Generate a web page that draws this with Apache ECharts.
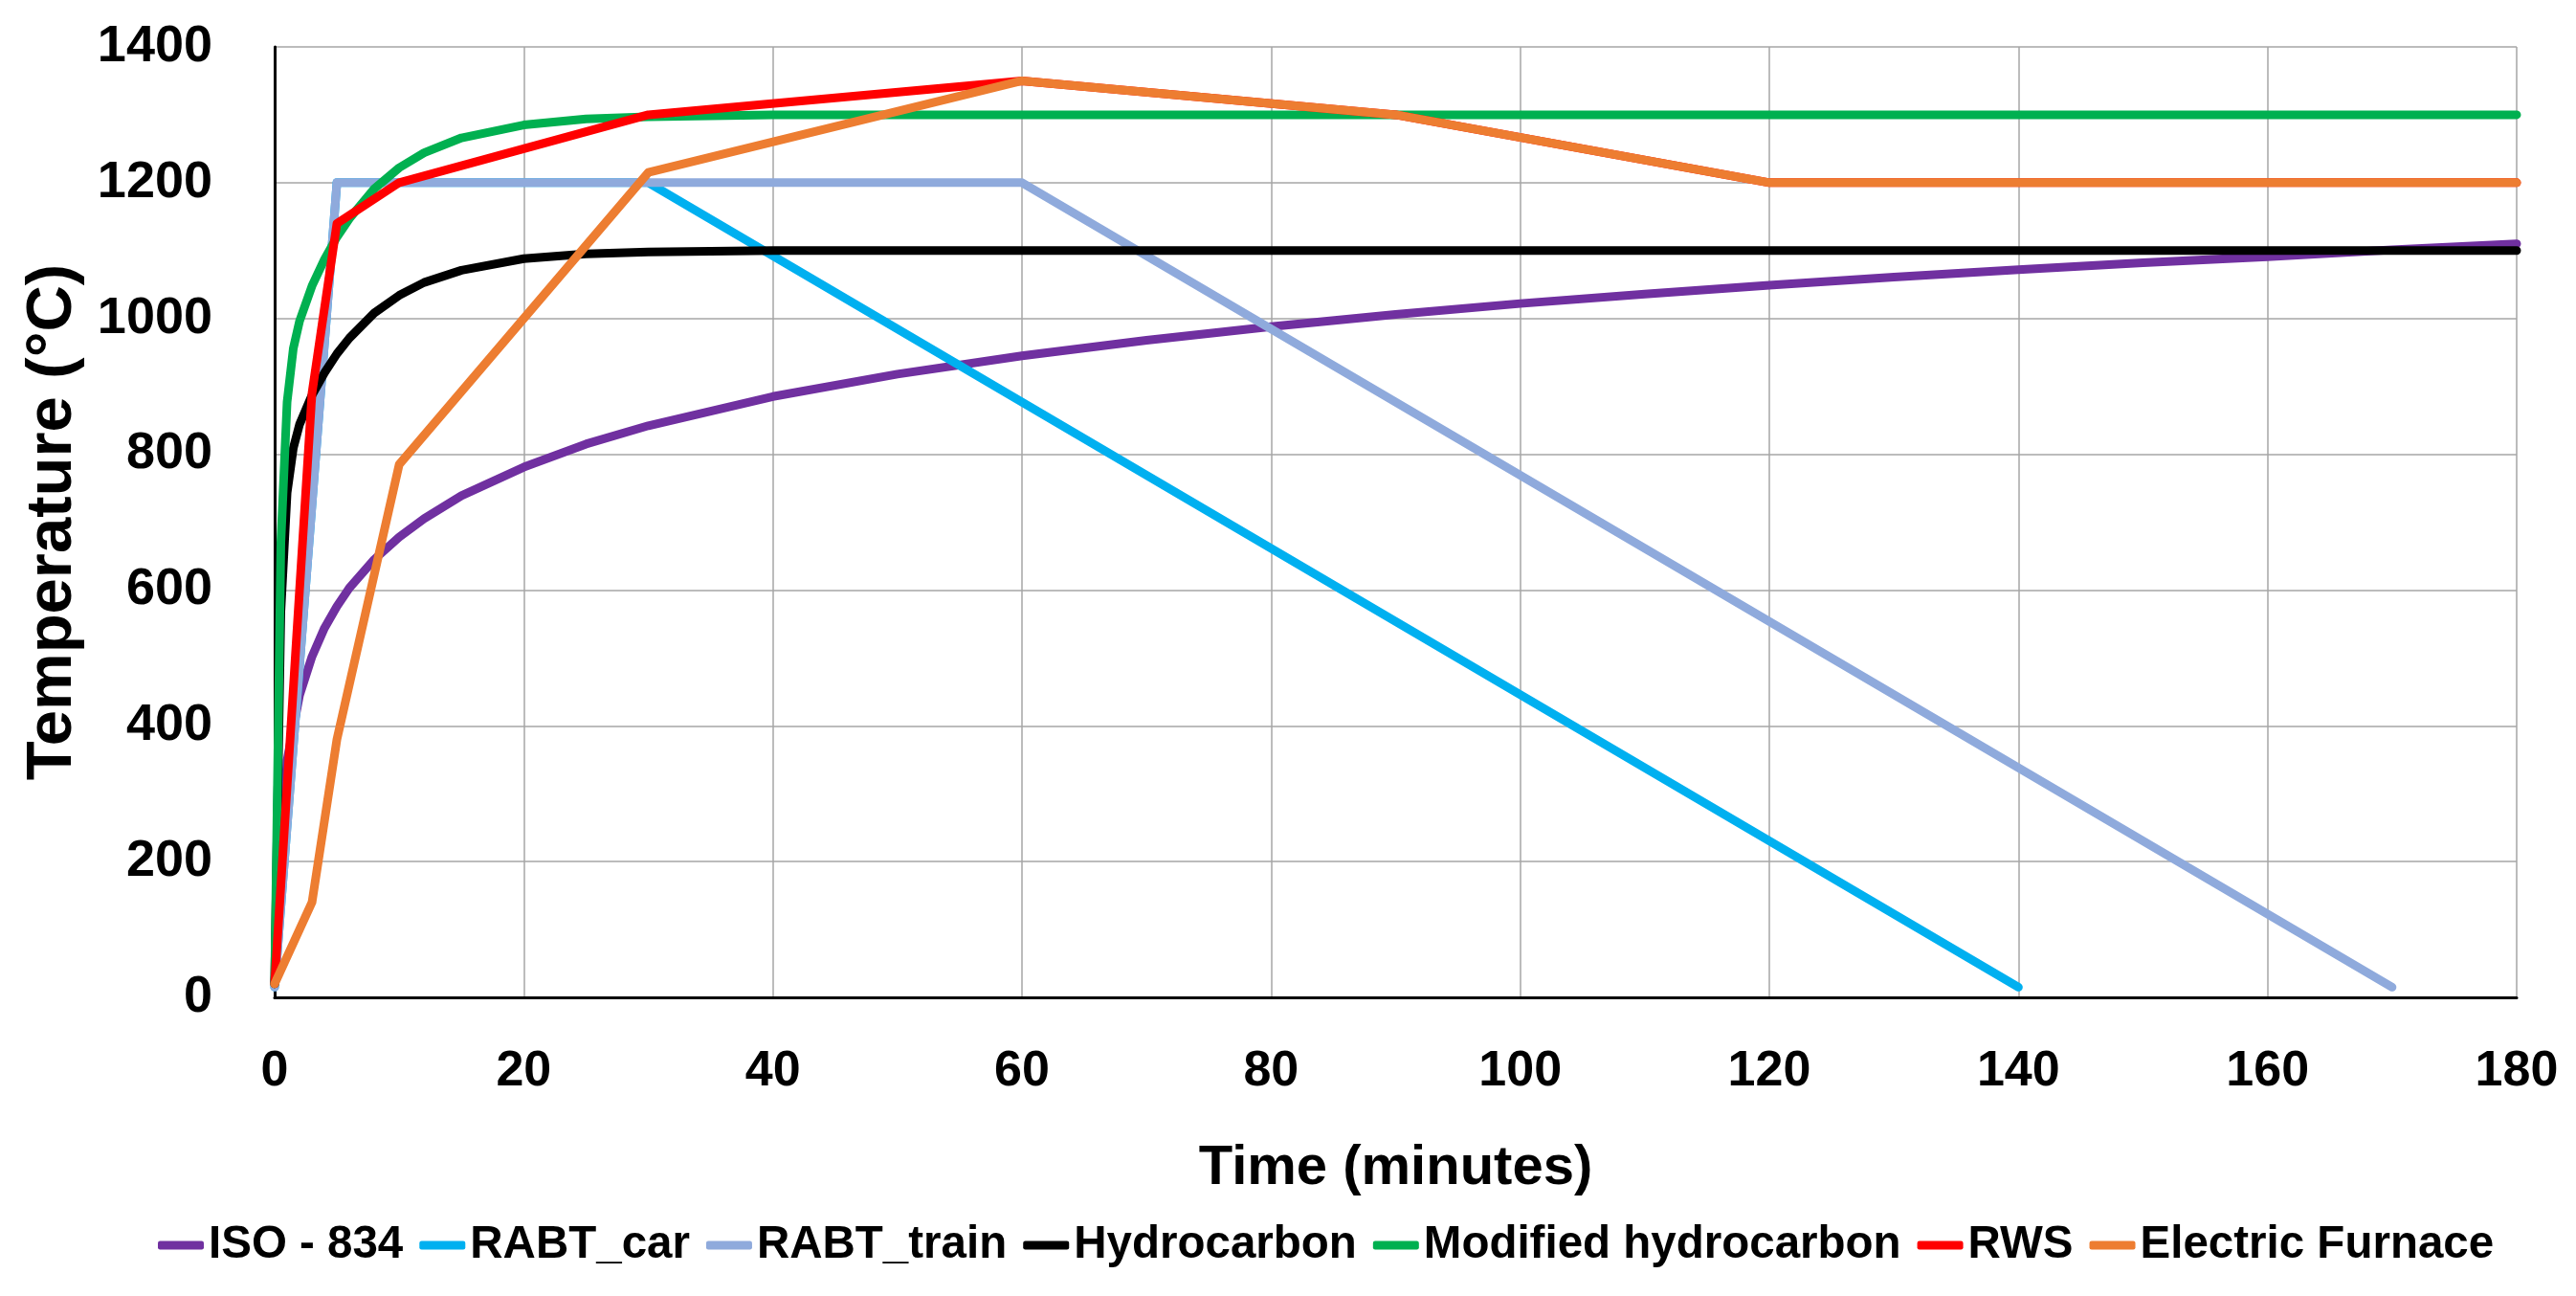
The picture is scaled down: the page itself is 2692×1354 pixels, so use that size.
<!DOCTYPE html>
<html>
<head>
<meta charset="utf-8">
<script src="https://cdn.jsdelivr.net/npm/echarts@6/dist/echarts.min.js"></script>
<style>
  html, body { margin: 0; padding: 0; background: #fff; }
  #chart { width: 2692px; height: 1354px; }
</style>
</head>
<body>
<div id="chart"></div>
<script>
// fire curves (time in minutes, temperature in °C)
const isoTime = [0, 1, 2, 3, 4, 5, 6, 8, 10, 12, 15, 20, 25, 30, 40, 50, 60, 70, 80, 90, 100, 110, 120, 130, 140, 150, 160, 170, 180]
const isoTemp = [20, 349, 445, 502, 544, 576, 603, 645, 678, 705, 739, 781, 815, 842, 885, 918, 945, 968, 988, 1006, 1022, 1036, 1049, 1061, 1072, 1082, 1091, 1101, 1110]

const rabtCarTime = [0, 5, 30, 140]
const rabtCarTemp = [15, 1200, 1200, 15]

const rabtTrainTime = [0, 5, 60, 170]
const rabtTrainTemp = [15, 1200, 1200, 15]

const hcTime = [0, 0.5, 1, 1.5, 2, 3, 4, 5, 6, 8, 10, 12, 15, 20, 25, 30, 40, 180]
const hcTemp = [20, 568, 743, 809, 844, 887, 920, 948, 971, 1008, 1034, 1053, 1071, 1088, 1095, 1098, 1100, 1100]
const hcmTemp = [20, 670, 877, 956, 996, 1048, 1087, 1120, 1147, 1191, 1222, 1244, 1266, 1285, 1294, 1297, 1300, 1300]

const rwsTime = [0, 3, 5, 10, 30, 60, 90, 120, 180]
const rwsTemp = [20, 890, 1140, 1200, 1300, 1350, 1300, 1200, 1200]

const furnaceTime = [0, 3, 5, 10, 30, 60, 90, 120, 180]
const furnaceTemp = [20, 140, 380, 785, 1215, 1350, 1300, 1200, 1200]

const names = ['ISO - 834', 'RABT_car', 'RABT_train', 'Hydrocarbon', 'Modified hydrocarbon', 'RWS', 'Electric Furnace']
const colors = ['#7030A0', '#00B0F0', '#8FAADC', '#000000', '#00B050', '#FF0000', '#ED7D31']

const pairs = (xs, ys) => xs.map((x, i) => [x, ys[i]])
const curves = [
  pairs(isoTime, isoTemp),
  pairs(rabtCarTime, rabtCarTemp),
  pairs(rabtTrainTime, rabtTrainTemp),
  pairs(hcTime, hcTemp),
  pairs(hcTime, hcmTemp),
  pairs(rwsTime, rwsTemp),
  pairs(furnaceTime, furnaceTemp)
]

const font = '"Liberation Sans", Arial, sans-serif'
const chart = echarts.init(document.getElementById('chart'))

const option = {
  animation: false,
  backgroundColor: '#fff',
  grid: { left: 287, right: 62, top: 49, bottom: 312 },
  legend: {
    data: names,
    left: 160,
    top: 1272,
    itemWidth: 48,
    itemHeight: 9,
    itemGap: 17,
    icon: 'roundRect',
    textStyle: { fontFamily: font, fontWeight: 'bold', fontSize: 47.5, color: '#000' }
  },
  xAxis: {
    type: 'value',
    min: 0,
    max: 180,
    interval: 20,
    name: 'Time (minutes)',
    nameLocation: 'middle',
    nameGap: 150,
    nameTextStyle: { fontFamily: font, fontWeight: 'bold', fontSize: 58, color: '#000' },
    axisLine: { lineStyle: { color: '#000', width: 3 } },
    axisTick: { show: false },
    axisLabel: { margin: 52, fontFamily: font, fontWeight: 'bold', fontSize: 52, color: '#000' },
    splitLine: { lineStyle: { color: '#A6A6A6', width: 1.5 } }
  },
  yAxis: {
    type: 'value',
    min: 0,
    max: 1400,
    interval: 200,
    name: 'Temperature (°C)',
    nameLocation: 'middle',
    nameGap: 198,
    nameTextStyle: { fontFamily: font, fontWeight: 'bold', fontSize: 67, color: '#000' },
    axisLine: { show: true, lineStyle: { color: '#000', width: 3 } },
    axisTick: { show: false },
    axisLabel: {
      margin: 65,
      fontFamily: font,
      fontWeight: 'bold',
      fontSize: 54,
      color: '#000',
      formatter: v => String(v)
    },
    splitLine: { lineStyle: { color: '#A6A6A6', width: 1.5 } }
  },
  series: names.map((name, i) => ({
    name: name,
    type: 'line',
    data: curves[i],
    symbol: 'none',
    color: colors[i],
    lineStyle: { width: 9, color: colors[i], cap: 'round', join: 'round' }
  }))
}

chart.setOption(option)
</script>
</body>
</html>
